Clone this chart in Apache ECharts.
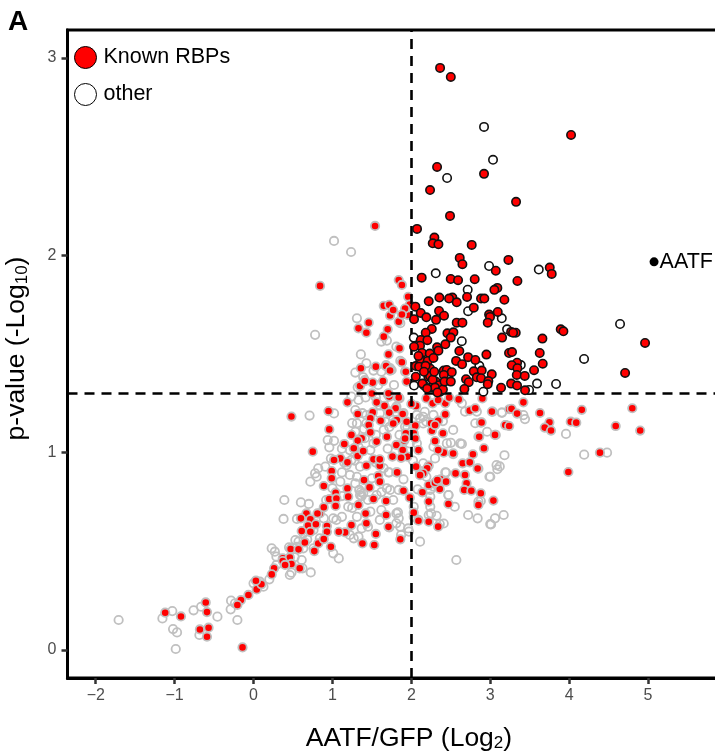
<!DOCTYPE html>
<html><head><meta charset="utf-8">
<script src="https://cdn.jsdelivr.net/npm/echarts@6/dist/echarts.min.js"></script>
<style>html,body{margin:0;padding:0;background:#fff}#c{width:715px;height:756px}</style></head>
<body><div id="c"></div>
<script>
const xTicks=[-2,-1,0,1,2,3,4,5];
const yTicks=[0,1,2,3];
const xCut=2, yCut=1.3;
const aatf=[[5.076,1.967]];
const sigRbp=[[2.364,2.95],[2.5,2.904],[4.024,2.61],[2.326,2.448],[2.921,2.413],[2.237,2.331],[3.327,2.271],[2.49,2.2],[2.072,2.134],[2.292,2.09],[2.271,2.061],[2.343,2.056],[2.765,2.053],[2.613,1.987],[2.647,1.955],[3.23,1.977],[3.07,1.922],[3.754,1.938],[3.779,1.906],[2.131,1.887],[2.499,1.88],[2.592,1.874],[2.803,1.879],[3.344,1.87],[3.09,1.835],[3.052,1.825],[2.355,1.786],[2.52,1.786],[2.478,1.781],[2.706,1.789],[2.883,1.781],[2.925,1.781],[3.179,1.775],[2.22,1.767],[2.575,1.762],[2.051,1.74],[2.791,1.735],[2.119,1.708],[2.351,1.718],[2.414,1.694],[2.19,1.686],[2.313,1.673],[2.034,1.676],[3.095,1.713],[2.985,1.7],[2.997,1.688],[2.968,1.659],[2.575,1.659],[2.647,1.659],[2.259,1.627],[2.182,1.608],[2.457,1.605],[2.533,1.61],[2.499,1.583],[3.264,1.612],[3.323,1.608],[3.289,1.608],[3.15,1.583],[3.893,1.625],[3.927,1.615],[3.661,1.578],[2.119,1.571],[2.203,1.57],[2.11,1.542],[2.034,1.537],[2.431,1.549],[2.326,1.534],[2.343,1.517],[2.136,1.505],[2.233,1.502],[2.608,1.515],[3.238,1.505],[3.276,1.51],[3.627,1.505],[2.951,1.497],[2.719,1.484],[2.11,1.475],[2.208,1.465],[2.567,1.465],[2.643,1.448],[2.811,1.47],[3.34,1.456],[3.665,1.451],[3.272,1.443],[3.344,1.428],[3.555,1.418],[2.056,1.439],[2.098,1.436],[2.237,1.426],[2.791,1.412],[2.411,1.416],[2.449,1.419],[2.512,1.408],[2.411,1.394],[2.892,1.416],[3.019,1.397],[3.336,1.394],[3.437,1.389],[2.829,1.382],[2.883,1.377],[2.976,1.363],[2.693,1.372],[2.727,1.357],[2.056,1.385],[2.215,1.385],[2.237,1.389],[2.309,1.36],[2.259,1.331],[2.355,1.342],[2.364,1.309],[2.672,1.323],[3.137,1.329],[3.264,1.35],[3.34,1.34],[3.441,1.316],[2.968,1.347],[2.18,1.44],[2.27,1.37],[2.3,1.33],[2.4,1.32],[2.33,1.305],[4.962,1.556],[4.709,1.404],[2.16,1.41],[2.29,1.41],[2.14,1.35],[2.42,1.36],[2.2,1.325],[2.28,1.48],[2.09,1.49],[2.5,1.36]];
const sigOther=[[2.921,2.651],[3.035,2.484],[2.453,2.392],[4.645,1.652],[4.189,1.475],[3.834,1.348],[2.309,1.909],[2.985,1.946],[3.615,1.928],[2.714,1.826],[2.719,1.717],[3.146,1.681],[3.213,1.625],[2.03,1.583],[2.639,1.565],[3.387,1.444],[2.862,1.44],[3.593,1.35],[3.492,1.318],[2.913,1.309],[2.034,1.34],[2.165,1.339]];
const nsRbp=[[1.65,1.744],[1.72,1.749],[1.73,1.695],[1.84,1.664],[1.95,1.698],[1.46,1.659],[1.33,1.63],[1.43,1.608],[1.7,1.625],[1.65,1.588],[1.85,1.529],[1.71,1.498],[1.88,1.458],[1.36,1.428],[1.55,1.436],[1.68,1.439],[1.92,1.411],[1.74,1.419],[1.94,1.36],[1.35,1.338],[1.64,1.363],[1.51,1.355],[1.41,1.368],[1.19,1.255],[0.95,1.211],[0.48,1.183],[1.32,1.196],[0.96,1.118],[0.75,1.005],[1.56,1.255],[1.7,1.296],[1.85,1.275],[1.66,1.237],[1.8,1.225],[1.51,1.204],[1.72,1.203],[1.89,1.196],[1.48,1.174],[1.61,1.162],[1.46,1.14],[1.48,1.103],[1.94,1.157],[2.05,1.137],[2.06,1.237],[2.19,1.275],[2.27,1.25],[2.43,1.25],[2.48,1.279],[2.6,1.27],[2.74,1.213],[2.81,1.225],[2.9,1.275],[3.03,1.208],[3.24,1.22],[2.43,1.194],[2.34,1.162],[2.25,1.149],[2.26,1.111],[2.4,1.098],[2.3,1.059],[2.41,1.0],[2.53,0.993],[2.85,1.081],[3.07,1.09],[2.88,1.152],[2.92,1.022],[3.2,1.14],[2.78,0.992],[2.65,0.946],[2.74,0.951],[2.85,0.919],[2.56,0.895],[2.68,0.887],[2.7,0.845],[2.67,0.811],[2.76,0.807],[2.88,0.794],[3.04,0.757],[2.85,0.735],[2.22,0.934],[2.2,0.921],[1.93,1.098],[1.91,1.061],[2.03,1.098],[2.09,1.013],[1.81,1.039],[1.69,1.081],[1.56,1.056],[1.37,1.073],[1.24,1.09],[1.32,1.061],[1.15,1.044],[1.28,1.022],[1.1,0.971],[1.02,0.963],[1.32,0.983],[1.19,0.951],[1.43,0.934],[1.52,0.966],[1.6,0.934],[1.6,0.966],[1.76,0.98],[1.95,0.98],[1.81,0.9],[1.58,0.882],[1.6,0.853],[1.4,0.861],[1.47,0.824],[1.19,0.819],[0.99,0.907],[0.99,0.87],[0.89,0.831],[1.04,0.797],[0.96,0.765],[1.05,0.768],[1.04,0.73],[1.2,0.777],[1.9,0.807],[2.14,0.799],[1.98,0.772],[1.52,0.765],[1.33,0.735],[1.68,0.755],[2.22,0.752],[2.22,0.65],[2.47,0.74],[2.37,0.865],[2.44,0.853],[2.36,0.816],[2.22,0.836],[2.09,0.659],[1.68,0.684],[1.43,0.642],[1.72,0.621],[1.42,0.692],[1.24,0.633],[1.16,0.596],[1.08,0.599],[0.93,0.628],[0.84,0.692],[0.67,0.692],[0.72,0.662],[0.69,0.63],[0.61,0.603],[0.65,0.545],[0.82,0.54],[0.77,0.501],[0.98,0.523],[1.38,0.54],[1.53,0.532],[1.55,0.588],[1.86,0.561],[0.47,0.512],[0.57,0.51],[0.37,0.464],[0.46,0.469],[2.3,0.848],[2.03,0.696],[2.34,0.625],[2.0,1.247],[2.34,1.267],[2.06,0.929],[2.15,0.895],[0.81,0.692],[0.89,0.723],[0.6,0.667],[0.79,0.637],[0.93,0.599],[0.72,0.599],[0.89,0.562],[1.72,1.284],[1.815,1.165],[1.77,1.148],[2.3,1.14],[1.27,1.022],[1.39,1.008],[1.92,1.072],[1.89,1.013],[2.05,1.072],[2.34,1.013],[1.87,0.974],[2.11,0.886],[3.42,1.255],[3.27,1.222],[3.34,1.198],[3.63,1.201],[4.16,1.217],[4.8,1.225],[3.75,1.154],[3.69,1.127],[3.77,1.112],[4.02,1.157],[4.09,1.152],[4.59,1.135],[4.9,1.112],[3.19,1.14],[3.24,1.135],[4.39,1.0],[3.99,0.902],[1.77,1.723],[1.88,1.458],[1.73,1.416],[1.93,1.41],[1.41,1.363],[1.71,1.301],[1.84,1.28],[1.5,1.3],[1.54,2.149],[0.843,1.845],[1.84,1.875],[1.88,1.85],[1.96,1.79],[1.98,1.75],[1.92,1.73],[1.88,1.7],[-1.12,0.189],[-0.92,0.17],[-0.606,0.241],[-0.59,0.192],[-0.68,0.104],[-0.57,0.113],[-0.59,0.067],[-0.14,0.013],[-0.065,0.279],[-0.16,0.253],[-0.205,0.228],[0.04,0.307],[0.1,0.333],[0.03,0.351],[0.26,0.414],[0.23,0.383],[0.37,0.451],[0.48,0.436],[0.585,0.414],[0.4,0.431],[3.02,1.208],[2.89,1.153],[2.86,1.081],[3.06,1.09],[2.53,0.996],[2.84,0.92],[2.33,0.861],[2.09,0.655],[1.71,0.624],[1.82,0.9]];
const nsOther=[[-1.71,0.152],[-1.155,0.16],[-1.03,0.197],[-1.02,0.106],[-0.97,0.089],[-0.986,0.005],[-0.76,0.201],[-0.665,0.219],[-0.458,0.169],[-0.686,0.076],[-0.285,0.25],[-0.29,0.206],[-0.205,0.152],[-0.235,0.236],[0.125,0.321],[0.2,0.358],[0.46,0.38],[0.48,0.392],[0.725,0.393],[0.62,0.414],[0.61,0.456],[0.29,0.431],[0.08,0.346],[0.0,0.338],[1.02,2.073],[1.236,2.017],[0.78,1.597],[1.31,1.681],[1.62,1.563],[1.69,1.568],[1.81,1.537],[1.86,1.656],[1.36,1.498],[1.43,1.453],[1.29,1.406],[1.39,1.382],[1.52,1.416],[1.75,1.419],[1.68,1.444],[1.86,1.465],[1.78,1.343],[1.32,1.331],[1.58,1.343],[1.62,1.41],[1.73,1.428],[0.71,1.188],[1.02,1.199],[1.24,1.284],[1.33,1.267],[1.29,1.216],[1.31,1.149],[1.29,1.106],[0.94,1.064],[0.96,1.027],[1.65,1.115],[1.77,1.166],[2.07,1.191],[2.15,1.182],[2.19,1.157],[2.28,1.191],[2.64,1.25],[2.68,1.208],[2.83,1.208],[3.15,1.203],[2.96,1.106],[2.81,1.149],[2.45,1.047],[2.62,1.047],[2.64,1.044],[2.28,1.03],[3.08,0.937],[3.09,0.916],[2.99,0.878],[2.55,0.726],[2.44,0.899],[2.47,0.785],[2.24,0.726],[2.22,0.684],[2.72,0.684],[2.84,0.667],[3.0,0.638],[3.06,0.667],[3.17,0.684],[2.36,0.638],[2.03,0.675],[2.11,0.549],[1.87,0.583],[1.97,0.6],[1.81,0.692],[1.84,0.667],[1.81,0.642],[1.62,0.709],[1.6,0.659],[1.48,0.701],[1.45,0.625],[1.31,0.675],[1.35,0.785],[1.37,0.78],[1.34,0.811],[1.39,0.794],[1.36,0.8],[1.56,0.785],[1.71,0.9],[1.9,0.865],[1.69,0.819],[1.84,0.811],[1.73,0.811],[1.31,0.878],[1.29,0.844],[1.22,0.887],[1.1,0.853],[0.91,0.929],[0.82,0.921],[0.78,0.895],[0.8,0.878],[0.72,0.853],[0.39,0.76],[0.6,0.748],[0.38,0.664],[0.55,0.664],[1.01,0.667],[1.12,0.675],[1.2,0.726],[1.05,0.659],[1.48,1.013],[1.41,1.073],[1.33,1.03],[1.52,1.047],[1.22,1.013],[1.18,0.937],[1.35,0.929],[1.24,0.963],[2.07,1.047],[1.98,1.047],[1.92,1.132],[2.0,1.106],[1.81,1.233],[1.75,1.25],[1.6,1.199],[1.67,1.157],[1.43,1.149],[1.43,1.19],[0.53,0.557],[0.57,0.549],[0.63,0.515],[0.76,0.515],[0.84,0.566],[1.01,0.49],[1.08,0.464],[1.27,0.566],[1.33,0.574],[1.22,0.583],[1.37,0.616],[0.23,0.515],[0.27,0.498],[0.29,0.473],[2.57,0.456],[0.55,0.523],[0.63,0.591],[0.76,0.608],[0.89,0.667],[1.65,0.921],[2.15,0.946],[2.11,0.895],[2.19,0.878],[2.28,0.828],[2.85,0.752],[2.24,0.777],[2.25,0.692],[2.24,0.811],[2.03,0.726],[1.77,0.76],[3.145,1.203],[3.42,1.19],[3.44,1.17],[3.96,1.095],[4.19,0.99],[4.48,1.0],[3.18,0.987],[3.12,0.93],[2.53,1.115],[3.0,0.878],[2.47,0.785],[2.88,0.755],[3.01,0.636],[1.86,0.624],[1.83,0.697],[1.72,0.9],[2.43,0.9],[2.3,0.971],[2.08,0.814],[1.96,0.616],[2.41,0.641],[2.32,0.68],[2.17,1.207],[2.11,1.174],[2.15,1.148],[1.4,1.12],[1.55,1.09],[1.7,1.02],[1.85,1.09],[1.5,0.87],[1.15,0.95],[1.0,0.82],[0.92,0.76],[1.12,0.78],[1.25,0.72],[1.45,0.76],[1.62,0.8],[0.7,0.74],[1.9,1.2],[1.55,1.28],[1.42,1.28],[2.4,1.16],[2.5,1.05],[0.45,0.52],[0.52,0.47],[0.68,0.56],[1.12,1.02],[1.02,1.06],[1.25,1.15],[1.38,1.2],[1.6,1.24],[1.95,1.13],[2.02,0.96],[1.12,0.9],[1.28,0.96],[1.55,0.95],[1.72,1.13],[0.98,0.97]];
const font='"Liberation Sans", Arial, sans-serif';
const nsItem={borderColor:'#c0c0c0',borderWidth:1.8,opacity:1};
const sigItem={borderColor:'#111',borderWidth:1.6,opacity:1};
const chart=echarts.init(document.getElementById('c'),null,{renderer:'canvas'});
const titleRich={a:{fontSize:26.5,color:'#000',fontFamily:font},s:{fontSize:17,color:'#000',fontFamily:font,verticalAlign:'bottom',padding:[10,0,0,0]}};
chart.setOption({
  animation:false,
  backgroundColor:'#fff',
  textStyle:{fontFamily:font},
  grid:{left:67.5,top:30,width:650,height:648,outerBoundsMode:'none',show:true,borderColor:'#000',borderWidth:3,backgroundColor:'#fff',z:0},
  xAxis:{type:'value',min:-2.358,max:5.88,splitLine:{show:false},
    axisLine:{show:true,onZero:false,lineStyle:{color:'#000',width:3}},
    axisTick:{show:true,length:6,customValues:xTicks,lineStyle:{color:'#333',width:2.5}},
    axisLabel:{customValues:xTicks,color:'#4d4d4d',fontSize:16,margin:10,fontFamily:font,formatter:v=>String(v).replace('-','\u2212')},
    name:'{a|AATF/GFP (Log}{s|2}{a|)}',nameLocation:'middle',nameGap:47,
    nameTextStyle:{padding:[0,0,0,33],rich:titleRich}},
  yAxis:{type:'value',min:-0.142,max:3.142,splitLine:{show:false},
    axisLine:{show:true,onZero:false,lineStyle:{color:'#000',width:3}},
    axisTick:{show:true,length:6,customValues:yTicks,lineStyle:{color:'#333',width:2.5}},
    axisLabel:{customValues:yTicks,color:'#4d4d4d',fontSize:16,margin:11,fontFamily:font},
    name:'{a|p-value (-Log}{s|10}{a|)}',nameLocation:'middle',nameGap:37,nameRotate:90,
    nameTextStyle:{padding:[0,0,0,11],rich:titleRich}},
  legend:{orient:'vertical',left:69,top:41,itemWidth:22,itemHeight:22,itemGap:14,
    textStyle:{fontSize:21.5,color:'#000',fontFamily:font,padding:[0,0,0,2]},
    data:[{name:'Known RBPs',icon:'circle',itemStyle:{color:'#ff0000',borderColor:'#000',borderWidth:1}},
          {name:'other',icon:'circle',itemStyle:{color:'#fff',borderColor:'#000',borderWidth:1}}]},
  title:{text:'A',left:3,top:3,textStyle:{fontSize:28,fontWeight:'bold',color:'#000',fontFamily:font}},
  series:[
    {name:'ns other',type:'scatter',z:2,symbolSize:8.4,data:nsOther,itemStyle:{color:'rgba(255,255,255,0)',...nsItem},emphasis:{disabled:true}},
    {name:'ns RBP',type:'scatter',z:3,symbolSize:8.4,data:nsRbp,itemStyle:{color:'#ff0000',...nsItem},emphasis:{disabled:true},
      markLine:{z:4,silent:true,symbol:'none',label:{show:false},animation:false,
        lineStyle:{color:'#000',width:2.6,type:[10,7]},
        data:[{xAxis:xCut},{yAxis:yCut}]}},
    {name:'other',type:'scatter',z:6,symbolSize:8.4,data:sigOther,itemStyle:{color:'#fff',...sigItem},emphasis:{disabled:true}},
    {name:'Known RBPs',type:'scatter',z:7,symbolSize:8.4,data:sigRbp,itemStyle:{color:'#ff0000',...sigItem},emphasis:{disabled:true}},
    {name:'AATF',type:'scatter',z:8,symbolSize:9,data:aatf,itemStyle:{color:'#000',opacity:1},emphasis:{disabled:true},
      label:{show:true,position:'right',distance:1,formatter:'AATF',fontSize:21.5,color:'#000',fontFamily:font}}
  ]
});
</script></body></html>
